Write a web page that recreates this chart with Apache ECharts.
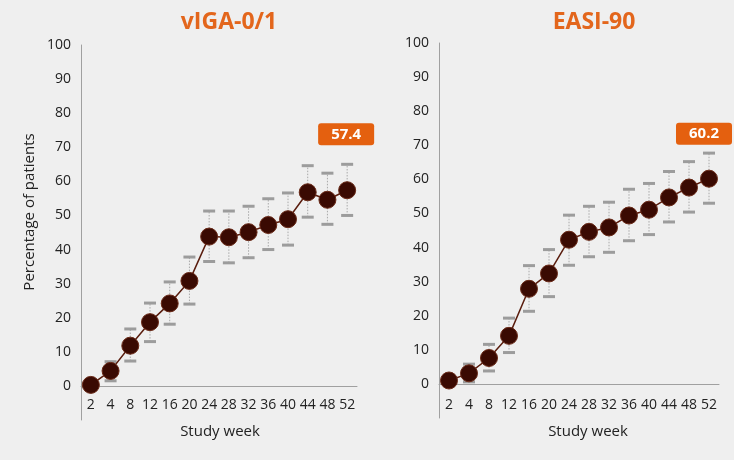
<!DOCTYPE html>
<html>
<head>
<meta charset="utf-8">
<script src="https://cdn.jsdelivr.net/npm/echarts@6/dist/echarts.min.js"></script>
<style>
html,body{margin:0;padding:0;background:#f7f7f7;}
#c{width:734px;height:460px;}
</style>
</head>
<body>
<div id="c"></div>
<script>
const weeks = ['2','4','8','12','16','20','24','28','32','36','40','44','48','52'];
const igaValues = [0.3,4.4,11.8,18.7,24.2,30.8,43.8,43.6,45.1,47.2,48.9,56.8,54.6,57.4];
const igaUpper  = [1.5,7.1,16.7,24.3,30.5,37.8,51.3,51.3,52.7,54.9,56.6,64.6,62.4,65.0];
const igaLower  = [0,1.5,7.3,13.0,18.1,24.0,36.5,36.1,37.6,40.0,41.3,49.5,47.4,50.0];
const easiValues = [1.0,3.1,7.6,14.1,27.9,32.4,42.3,44.6,45.9,49.4,51.1,54.7,57.6,60.2];
const easiUpper  = [2.5,5.8,11.6,19.3,34.7,39.4,49.5,52.1,53.3,57.1,58.8,62.3,65.2,67.7];
const easiLower  = [0,0.6,3.8,9.2,21.3,25.6,34.8,37.3,38.6,42.0,43.8,47.5,50.4,53.0];
const yTicks = [0,10,20,30,40,50,60,70,80,90,100];

const FONT = '"Open Sans", "Liberation Sans", sans-serif';
const ORANGE = '#E4600F';
const TITLE_ORANGE = '#E3661C';

function errData(lo, hi) {
  return weeks.map((w, i) => [i, lo[i], hi[i]]);
}
function renderErr(params, api) {
  const x = api.value(0);
  const lo = api.coord([x, api.value(1)]);
  const hi = api.coord([x, api.value(2)]);
  const capW = 12;
  return {
    type: 'group',
    children: [
      {type: 'line', shape: {x1: lo[0], y1: lo[1], x2: hi[0], y2: hi[1]},
       style: {stroke: '#a8a8a8', lineWidth: 1, lineDash: [1.5, 1.5]}},
      {type: 'rect', shape: {x: hi[0] - capW/2, y: hi[1] - 1.5, width: capW, height: 3},
       style: {fill: '#9c9c9c'}},
      {type: 'rect', shape: {x: lo[0] - capW/2, y: lo[1] - 1.5, width: capW, height: 3},
       style: {fill: '#9c9c9c'}}
    ]
  };
}
function lineData(vals, dist, offX) {
  return vals.map((v, i) => {
    if (i === vals.length - 1) {
      return {value: v, label: {
        show: true, position: 'top', distance: dist, offset: [offX, 0],
        formatter: () => v.toFixed(1),
        backgroundColor: ORANGE, borderRadius: 3, padding: [4, 13, 3, 13],
        color: '#fff', fontWeight: 'bold', fontSize: 15, fontFamily: FONT
      }};
    }
    return v;
  });
}
function xAxisDef(gi, margin) {
  return {
    type: 'category', gridIndex: gi, data: weeks,
    axisLine: {onZero: true, lineStyle: {color: '#a0a0a0', width: 1}},
    axisTick: {show: false},
    axisLabel: {color: '#222', fontSize: 14, fontFamily: FONT, margin: margin, interval: 0}
  };
}
function yAxisDef(gi) {
  return {
    type: 'value', gridIndex: gi, min: -10, max: 100, interval: 10,
    splitLine: {show: false},
    axisTick: {show: false},
    axisLine: {show: true, lineStyle: {color: '#a0a0a0', width: 1}},
    axisLabel: {color: '#222', fontSize: 14, fontFamily: FONT, margin: 10,
      formatter: v => (yTicks.indexOf(v) >= 0 ? String(v) : '')}
  };
}
function lineSeries(gi, vals, dist, offX) {
  return {
    type: 'line', xAxisIndex: gi, yAxisIndex: gi, data: lineData(vals, dist, offX),
    symbol: 'circle', symbolSize: 17, z: 5,
    lineStyle: {color: '#5a1d0e', width: 1.5},
    itemStyle: {color: '#3a0a02', borderColor: '#6a2a18', borderWidth: 1},
    emphasis: {disabled: true}, animation: false
  };
}
function nameText(x, y, text, rot) {
  return {type: 'text', x: x, y: y, rotation: rot || 0, silent: true,
    style: {text: text, fill: '#222', font: '15px ' + FONT, align: 'center', verticalAlign: 'middle'}};
}

const chart = echarts.init(document.getElementById('c'));
chart.setOption({
  backgroundColor: '#efefef',
  animation: false,
  title: [
    {text: 'vIGA-0/1', left: 224, top: 6, textAlign: 'center',
     textStyle: {color: TITLE_ORANGE, fontSize: 23, fontWeight: 'bold', fontFamily: FONT}},
    {text: 'EASI-90', left: 589, top: 6, textAlign: 'center',
     textStyle: {color: TITLE_ORANGE, fontSize: 23, fontWeight: 'bold', fontFamily: FONT}}
  ],
  grid: [
    {left: 81, top: 45, width: 276, height: 375, outerBoundsMode: 'none', containLabel: false},
    {left: 439, top: 43, width: 280, height: 375, outerBoundsMode: 'none', containLabel: false}
  ],
  xAxis: [xAxisDef(0, -22), xAxisDef(1, -20)],
  yAxis: [yAxisDef(0), yAxisDef(1)],
  graphic: [
    nameText(30, 212, 'Percentage of patients', Math.PI / 2),
    nameText(220, 432, 'Study week'),
    nameText(588, 432, 'Study week')
  ],
  series: [
    {type: 'custom', xAxisIndex: 0, yAxisIndex: 0, renderItem: renderErr,
     data: errData(igaLower, igaUpper), z: 3, silent: true},
    lineSeries(0, igaValues, 36, -1),
    {type: 'custom', xAxisIndex: 1, yAxisIndex: 1, renderItem: renderErr,
     data: errData(easiLower, easiUpper), z: 3, silent: true},
    lineSeries(1, easiValues, 25, -5)
  ]
});
</script>
</body>
</html>
